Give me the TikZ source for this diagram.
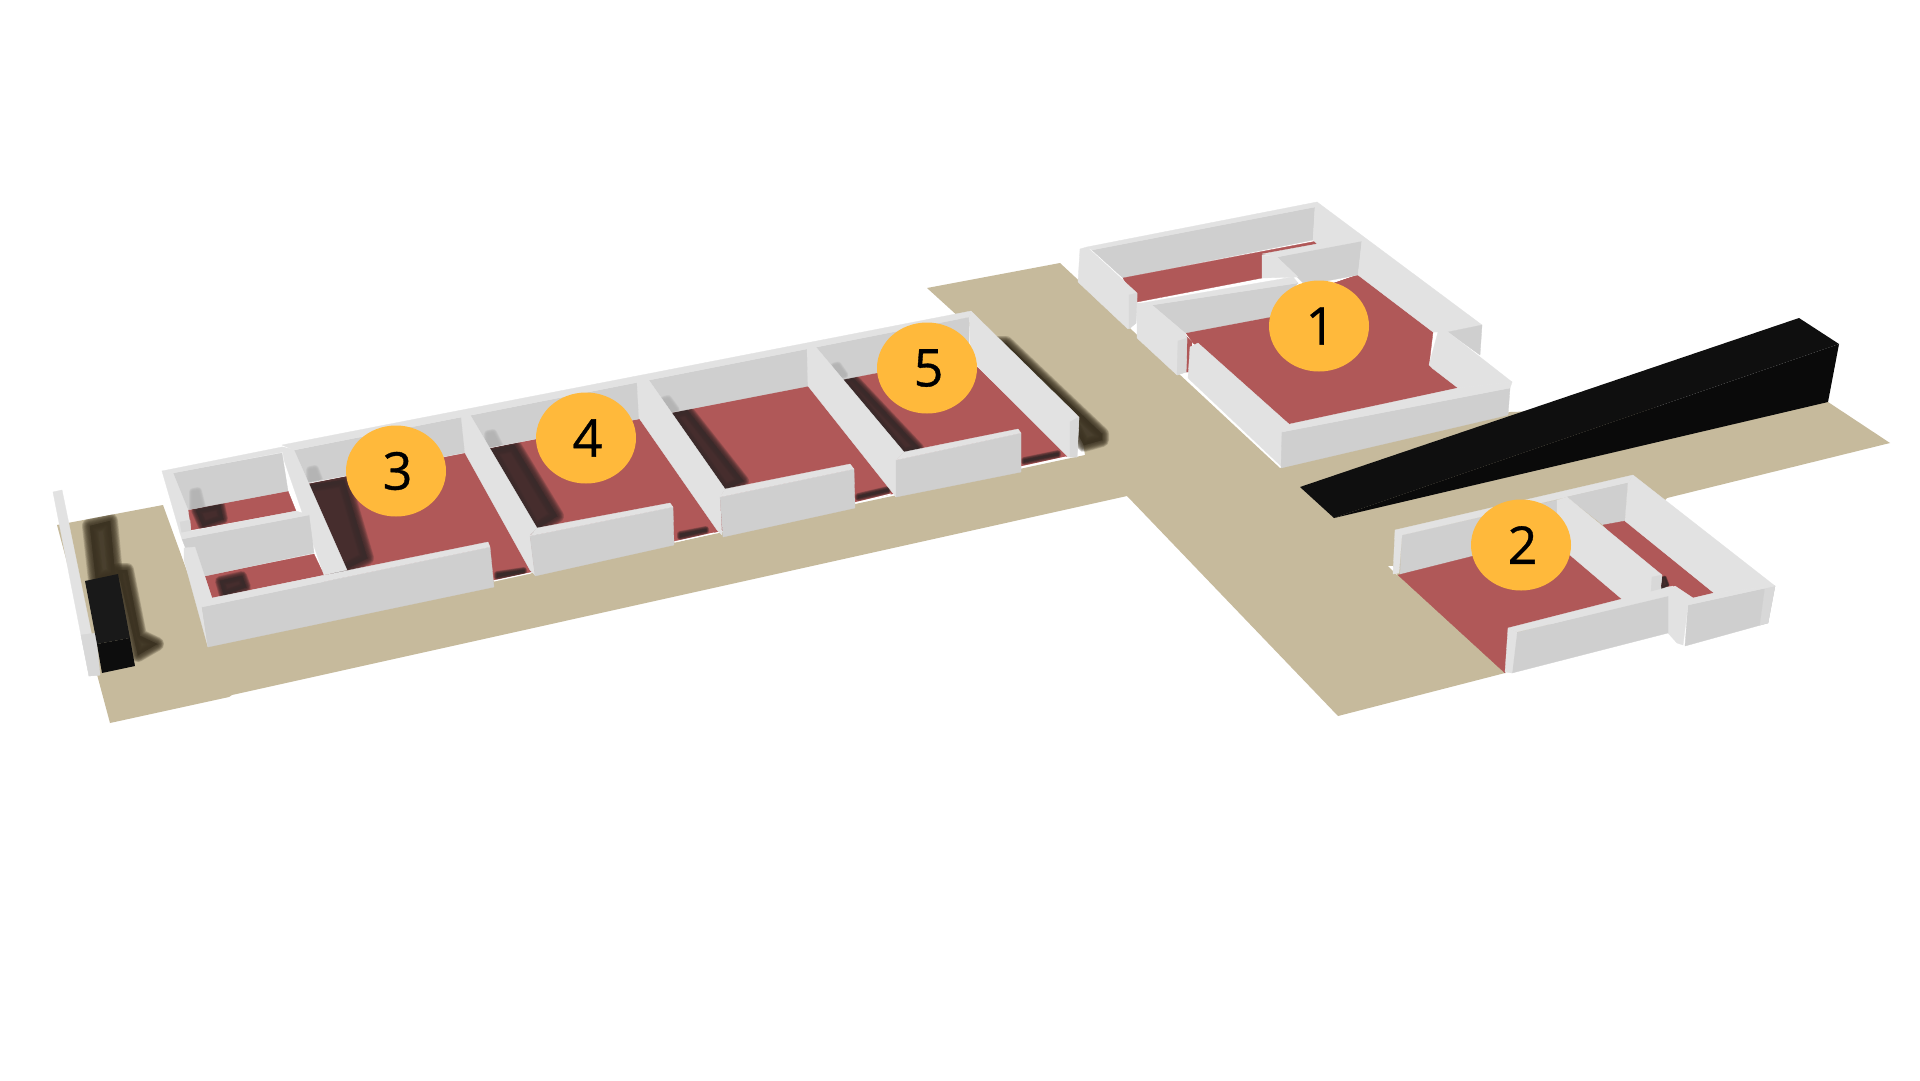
\documentclass[tikz,border=0pt]{standalone}
\usepackage{fontspec}
\setmainfont{Open Sans}
\newfontfamily\markfont[FakeBold=0.7]{Open Sans}
\usetikzlibrary{shapes.geometric}
\definecolor{groundc}{HTML}{C6BA9C}
\definecolor{floorc}{HTML}{B05858}
\definecolor{topc}{HTML}{E2E2E2}
\definecolor{facec}{HTML}{CFCFCF}
\definecolor{capc}{HTML}{D8D8D8}
\definecolor{markc}{HTML}{FFB93B}
\definecolor{shadeg}{HTML}{3C3322}
\definecolor{shadef}{HTML}{3A2A2A}
\definecolor{shadew}{HTML}{B4B4B4}
\tikzset{
 groundp/.style={fill=groundc},
 floorp/.style={fill=floorc,draw=floorc,line width=.3pt,line join=round},
 topp/.style={fill=topc,draw=topc,line width=.3pt,line join=round},
 facep/.style={fill=facec,draw=facec,line width=.3pt,line join=round},
 capp/.style={fill=capc,draw=capc,line width=.3pt,line join=round},
 marker/.style={ellipse,fill=markc,minimum width=100pt,minimum height=91pt,inner sep=0pt,font=\markfont\fontsize{52}{52}\selectfont,text=black},
 hair/.style={draw=white,line width=1pt}
}
% #1 colour, #2 blur width, #3 path
\newcommand{\softpoly}[3]{%
 \foreach \w in {1,.9,.8,.7,.6,.5,.4,.3,.2,.1}{\path[fill=#1,draw=#1,opacity=.2,line join=round,line width=\w*#2 pt] #3;}%
}
\begin{document}
\begin{tikzpicture}[x=1pt,y=-1pt]
\useasboundingbox (0,0) rectangle (1920,1080);
\fill[white] (0,0) rectangle (1920,1080);
% ground
\path[groundp] (927,288)--(1060,263)--(1280,468)--(1510,412)--(1828,402)--(1890,443)--(1667,498)--(1505,673)--(1338,716)--(1127,496)--(232,695)--(229,697)--(110,723)--(57,525)--(163,505)--(200,607)--(494,581)--(1085,455)--(1079,420)--(960,318)--cycle;
% ground shadows
\begin{scope}
\clip (57,525)--(163,505)--(200,607)--(208,660)--(229,697)--(110,723)--cycle;
\softpoly{shadeg}{16}{(90,526)--(110,521)--(115,575)--(96,580)--cycle}
\softpoly{shadeg}{14}{(118,570)--(127,570)--(140,636)--(157,644)--(138,655)--cycle}
\end{scope}
\softpoly{shadeg}{14}{(998,343)--(1006,343)--(1102,434)--(1102,440)--(1084,445)--(1070,420)--cycle}
% thin screen and block at the far west
\path[topp] (53,492)--(62,490)--(100,675)--(89,676)--cycle;
\path[capp] (81,635)--(96,633)--(100,675)--(89,676)--cycle;
\path[fill=black!90,draw=none] (85,581)--(118,574)--(130,638)--(97,644)--cycle;
\path[fill=black!95] (97,644)--(130,638)--(135,666)--(102,673)--cycle;
% ---------- corridor block: floors
\path[floorp] (187,510)--(288,491)--(296,511)--(191,530)--cycle;
\path[floorp] (205,576)--(314,554)--(324,575)--(212,598)--cycle;
\path[floorp] (308,484)--(965,355)--(1068,456)--(494,580)--(330,615)--cycle;
% floor shadows
\begin{scope}
\clip (187,510)--(288,491)--(296,511)--(191,530)--cycle;
\softpoly{shadef}{10}{(196,510)--(220,505)--(223,519)--(203,526)--cycle}
\end{scope}
\begin{scope}
\clip (205,576)--(314,554)--(324,575)--(212,598)--cycle;
\softpoly{shadef}{10}{(220,581)--(242,576)--(246,587)--(224,595)--cycle}
\end{scope}
\begin{scope}
\clip (308,484)--(965,355)--(1068,456)--(494,580)--(330,615)--cycle;
\softpoly{shadef}{14}{(305,486)--(344,480)--(367,558)--(335,575)--cycle}
\softpoly{shadef}{14}{(490,450)--(514,445)--(557,516)--(535,530)--cycle}
\softpoly{shadef}{12}{(671,414)--(687,410)--(743,481)--(725,490)--cycle}
\softpoly{shadef}{10}{(843,380)--(853,378)--(919,448)--(904,453)--cycle}
\softpoly{shadef}{6}{(497,574)--(524,570)--(524,572)--(497,577)--cycle}
\softpoly{shadef}{6}{(680,534)--(706,529)--(706,531)--(680,537)--cycle}
\softpoly{shadef}{6}{(858,496)--(888,489)--(888,491)--(858,498)--cycle}
\softpoly{shadef}{6}{(1024,460)--(1058,453)--(1058,455)--(1024,462)--cycle}
\end{scope}
% floor white hairlines
\draw[hair] (308,483)--(465,452) (492,447)--(633,417) (671,411)--(808,385) (843,377)--(960,354);
\draw[hair] (494,581)--(531,573) (675,542)--(714,533) (855,503)--(891,494) (1021,467)--(1066,457);
% back wall faces
\path[facep] (173,473)--(282,453)--(288,491)--(187,510)--cycle;
\path[facep] (285,452)--(969,317)--(969,355)--(308,483)--cycle;
\begin{scope}
\clip (173,473)--(282,453)--(288,491)--(187,510)--cycle;
\softpoly{shadew}{8}{(193,492)--(198,491)--(202,507)--(193,509)--cycle}
\end{scope}
\begin{scope}
\clip (285,452)--(969,317)--(969,355)--(308,482)--cycle;
\softpoly{shadew}{8}{(310,470)--(315,469)--(320,482)--(310,484)--cycle}
\softpoly{shadew}{8}{(488,434)--(493,433)--(500,447)--(488,450)--cycle}
\softpoly{shadew}{8}{(664,400)--(668,399)--(676,410)--(664,413)--cycle}
\softpoly{shadew}{7}{(834,366)--(838,365)--(845,375)--(834,378)--cycle}
\end{scope}
% back strips
\path[topp] (162,471)--(282,447)--(294,450)--(173,473)--cycle;
\path[topp] (282,445)--(971,311)--(969,317)--(294,450)--cycle;
% east wall
\path[topp] (969,317)--(971,311)--(1079,417)--(1077,457)--(1068,457)--(971,360)--cycle;
\path[capp] (1070,422)--(1079,417)--(1077,457)--(1070,457)--cycle;
% partitions
\path[topp] (807,348)--(815,346)--(904,452)--(896,460)--(896,497)--(808,386)--cycle;
\path[topp] (637,382)--(648,379)--(725,489)--(720,497)--(722,535)--(717,530)--(639,418)--cycle;
\path[topp] (461,415)--(469,413)--(537,528)--(530,535)--(535,575)--(530,570)--(465,453)--cycle;
\path[topp] (282,447)--(294,450)--(347,570)--(324,575)--(284,460)--cycle;
% west wall, upper
\path[topp] (162,471)--(173,473)--(188,510)--(191,531)--(180,533)--cycle;
\path[capp] (180,522)--(190,520)--(191,533)--(182,535)--cycle;
% middle wall
\path[facep] (182,539)--(309,515)--(314,553)--(205,576)--(196,575)--cycle;
\path[topp] (180,533)--(296,511)--(309,515)--(182,539)--cycle;
\draw[white,line width=.8pt] (166,507)--(184,560);
% west wall, lower
\path[topp] (184,548)--(195,547)--(212,598)--(202,607)--(208,647)--(184,560)--cycle;
% front walls
\path[facep] (202,607)--(490,547)--(494,587)--(208,647)--cycle;
\path[topp] (212,598)--(488,542)--(490,547)--(202,607)--cycle;
\path[facep] (530,536)--(673,507)--(674,545)--(535,576)--cycle;
\path[topp] (537,528)--(670,503)--(673,507)--(530,536)--cycle;
\path[facep] (720,497)--(854,469)--(855,508)--(723,537)--cycle;
\path[topp] (725,489)--(850,464)--(854,469)--(720,497)--cycle;
\path[facep] (896,460)--(1021,433)--(1021,472)--(896,497)--cycle;
\path[topp] (904,452)--(1018,429)--(1021,433)--(896,460)--cycle;
% ---------- black wedge
\path[fill=black!94] (1300,487)--(1799,318)--(1839,344)--(1334,518)--cycle;
\path[fill=black!96] (1839,344)--(1828,402)--(1334,518)--cycle;
% ---------- building 1
\path[facep] (1092,250)--(1315,207)--(1313,240)--(1123,278)--cycle;
\path[floorp] (1123,278)--(1317,241)--(1317,244)--(1263,255)--(1262,278)--(1137,302)--cycle;
\path[floorp] (1185,335)--(1192,342)--(1190,372)--(1186,372)--cycle;
\path[floorp] (1186,333)--(1358,275)--(1433,332)--(1429,365)--(1458,388)--(1290,425)--(1193,343)--cycle;
\path[floorp] (1186,333)--(1300,310)--(1358,275)--cycle;
\path[facep] (1277,257)--(1362,240)--(1358,275)--(1305,285)--cycle;
\path[topp] (1080,249)--(1087,247)--(1137,293)--(1137,302)--(1136,323)--(1128,329)--(1078,282)--cycle;
\path[capp] (1129,295)--(1137,293)--(1136,323)--(1129,329)--cycle;
\path[topp] (1087,247)--(1317,202)--(1315,207)--(1092,250)--cycle;
\path[topp] (1315,207)--(1317,202)--(1482,325)--(1448,332)--(1433,332)--(1358,275)--(1362,240)--(1317,244)--(1313,240)--cycle;
\path[facep] (1448,332)--(1482,325)--(1480,355)--cycle;
\path[topp] (1262,255)--(1277,257)--(1298,277)--(1262,278)--cycle;
\path[topp] (1262,254)--(1317,244)--(1362,238)--(1362,241)--(1277,257)--cycle;
\path[facep] (1152,305)--(1298,283)--(1270,317)--(1185,333)--cycle;
\path[topp] (1142,303)--(1293,277)--(1298,283)--(1152,305)--cycle;
\path[topp] (1137,303)--(1142,303)--(1152,305)--(1185,333)--(1187,338)--(1186,372)--(1177,375)--(1137,338)--cycle;
\path[capp] (1178,341)--(1187,338)--(1186,372)--(1177,375)--cycle;
\path[topp] (1438,332)--(1448,332)--(1512,382)--(1458,388)--(1432,368)--(1429,365)--cycle;
\path[topp] (1190,347)--(1198,343)--(1290,425)--(1282,432)--(1282,467)--(1188,378)--cycle;
\path[facep] (1282,432)--(1510,388)--(1508,415)--(1281,468)--cycle;
\path[topp] (1282,432)--(1290,424)--(1458,388)--(1512,382)--(1510,388)--cycle;
% ---------- building 2
\path[fill=white] (1388,566)--(1397,575)--(1393,566)--cycle;
\path[facep] (1402,535)--(1557,500)--(1570,556)--(1400,575)--cycle;
\path[floorp] (1398,575)--(1557,535)--(1640,600)--(1510,628)--(1505,673)--cycle;
\path[topp] (1395,530)--(1633,475)--(1628,483)--(1402,535)--(1399,573)--(1393,574)--cycle;
\path[facep] (1567,497)--(1628,483)--(1625,522)--(1603,525)--cycle;
\path[floorp] (1603,525)--(1625,521)--(1714,593)--(1693,598)--(1675,586)--(1662,587)--(1650,575)--cycle;
\softpoly{shadef}{3}{(1662,578)--(1665,577)--(1668,585)--(1662,588)--cycle}
\path[topp] (1557,500)--(1567,497)--(1662,575)--(1660,592)--(1650,593)--(1623,600)--(1557,544)--cycle;
\path[capp] (1652,577)--(1662,575)--(1660,592)--(1651,592)--cycle;
\path[topp] (1628,483)--(1633,475)--(1775,586)--(1714,593)--(1625,521)--cycle;
\path[facep] (1688,605)--(1775,586)--(1768,623)--(1685,646)--cycle;
\path[capp] (1765,588)--(1775,586)--(1768,623)--(1760,625)--cycle;
\path[topp] (1688,605)--(1693,598)--(1714,593)--(1775,586)--cycle;
\path[topp] (1675,586)--(1693,598)--(1688,605)--(1683,645)--(1677,643)--(1668,633)--(1668,593)--cycle;
\path[facep] (1515,633)--(1668,595)--(1668,633)--(1512,673)--cycle;
\path[topp] (1508,628)--(1673,586)--(1672,595)--(1517,632)--cycle;
\path[topp] (1508,628)--(1517,632)--(1512,673)--(1505,672)--cycle;
% ---------- markers
\node[marker] (m1) at (1319,326) {\raisebox{-4pt}{\hspace{3pt}1}};
\node[marker] (m2) at (1521,545) {\raisebox{-4pt}{\hspace{3pt}2}};
\node[marker] (m3) at (396,471) {\raisebox{-4pt}{\hspace{3pt}3}};
\node[marker] (m4) at (586,438) {\raisebox{-4pt}{\hspace{3pt}4}};
\node[marker] (m5) at (927,368) {\raisebox{-4pt}{\hspace{3pt}5}};
\end{tikzpicture}
\end{document}
